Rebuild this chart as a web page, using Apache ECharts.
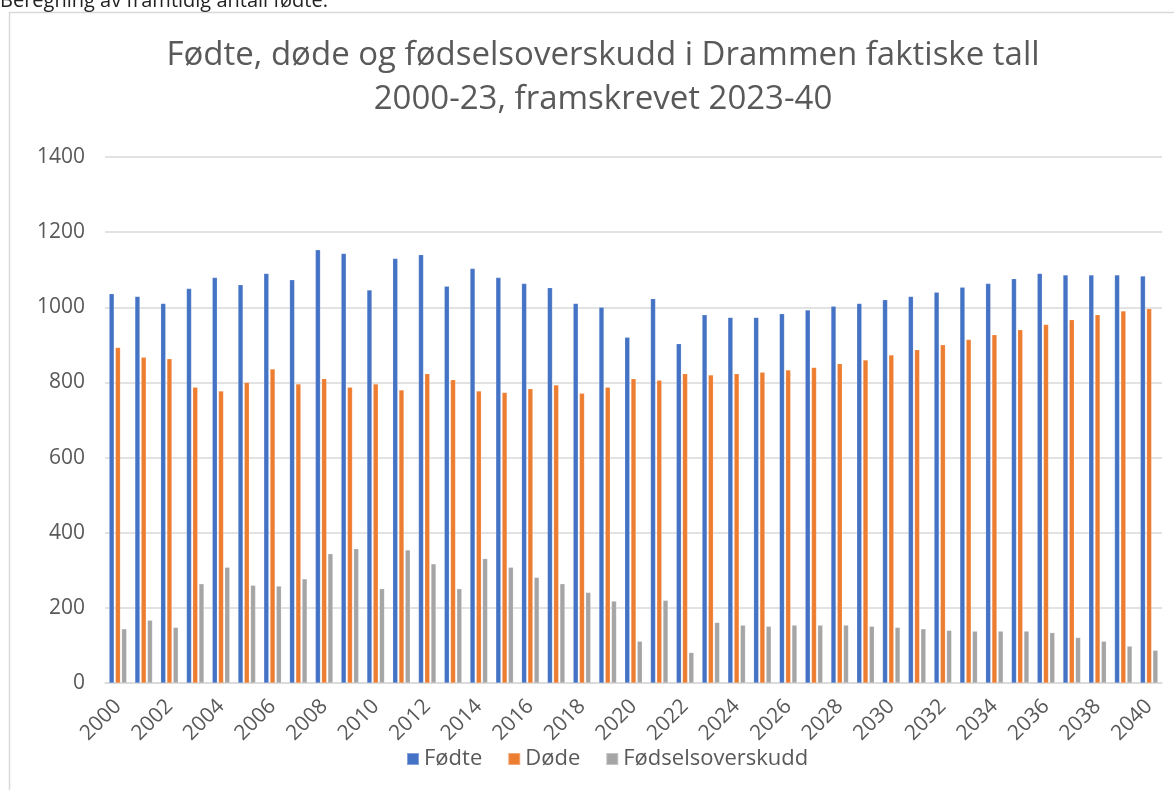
<!DOCTYPE html>
<html>
<head>
<meta charset="utf-8">
<script src="https://cdn.jsdelivr.net/npm/echarts@6/dist/echarts.min.js"></script>
<style>
html,body{margin:0;padding:0;background:#fff;overflow:hidden;}
#c{width:1174px;height:790px;}
</style>
</head>
<body>
<div id="c"></div>
<script>
const years = [];
for (let y = 2000; y <= 2040; y++) years.push(String(y));
const fodte = [1036,1029,1010,1050,1079,1060,1090,1073,1153,1143,1046,1130,1140,1056,1103,1079,1063,1052,1010,1000,920,1023,903,980,973,973,983,993,1003,1010,1020,1029,1040,1053,1063,1076,1090,1086,1086,1086,1083];
const dode = [893,867,863,787,777,800,836,796,810,787,796,780,823,807,777,773,783,793,771,787,810,806,823,820,823,827,833,840,850,860,873,887,900,914,927,940,954,967,980,990,996];
const overskudd = [144,167,148,264,308,260,258,277,344,357,251,354,317,251,331,308,281,264,241,218,111,220,81,161,154,151,154,154,154,151,148,144,140,138,138,138,134,121,111,98,87];
const yTicks = [0,200,400,600,800,1000,1200,1400];
const seriesNames = ['Fødte','Døde','Fødselsoverskudd'];
const colors = ['#4472C4','#ED7D31','#A5A5A5'];
const FONT = '"Open Sans", sans-serif';
const TXT = '#595959';

const chart = echarts.init(document.getElementById('c'), null, {renderer:'canvas'});
const mk = (name, data, i) => ({
  name, type:'bar', data, barWidth:5, barGap:'25%',
  itemStyle:{color:colors[i], borderColor:'rgba(255,255,255,0.35)', borderWidth:0.5},
  emphasis:{disabled:true}
});
chart.setOption({
  animation:false,
  color:colors,
  graphic:[
    {type:'rect', shape:{x:9.5,y:12.5,width:1170,height:800}, style:{fill:'none',stroke:'#d9d9d9',lineWidth:1.5}, z:-1},
    {type:'text', left:0, top:-9, style:{text:'Beregning av framtidig antall fødte.', font:'20px '+FONT, fill:'#222'}}
  ],
  title:{
    text:'Fødte, døde og fødselsoverskudd i Drammen faktiske tall\n2000-23, framskrevet 2023-40',
    left:598, top:29, textAlign:'center',
    textStyle:{fontFamily:FONT, fontSize:33, fontWeight:'normal', color:TXT, lineHeight:44}
  },
  legend:{
    data:seriesNames, bottom:15, left:401, itemWidth:12, itemHeight:12, itemGap:25,
    icon:'rect',
    textStyle:{fontFamily:FONT, fontSize:22, color:TXT}
  },
  grid:{left:105, right:12, top:157, bottom:107, containLabel:false},
  xAxis:{
    type:'category', data:years,
    axisLine:{lineStyle:{color:'#d9d9d9', width:1.5}},
    axisTick:{show:false},
    axisLabel:{interval:1, rotate:45, fontFamily:FONT, fontSize:21, color:TXT, margin:20}
  },
  yAxis:{
    type:'value', min:yTicks[0], max:yTicks[yTicks.length-1], interval:200,
    axisLine:{show:false}, axisTick:{show:false},
    splitLine:{lineStyle:{color:'#d9d9d9', width:1.5}},
    axisLabel:{fontFamily:FONT, fontSize:21, color:TXT, margin:20, formatter:v => String(v)}
  },
  series:[mk(seriesNames[0],fodte,0), mk(seriesNames[1],dode,1), mk(seriesNames[2],overskudd,2)]
});
</script>
</body>
</html>
